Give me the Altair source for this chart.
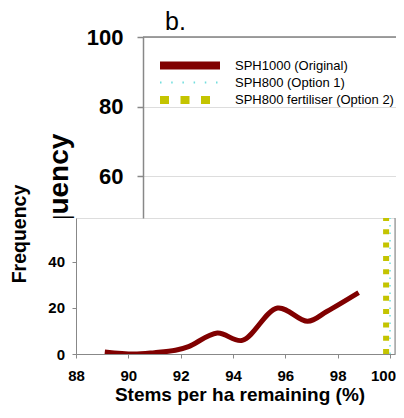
import altair as alt
import pandas as pd

# ---------------- data ----------------
series_names = ["SPH1000 (Original)", "SPH800 (Option 1)", "SPH800 fertiliser (Option 2)"]
series_colors = ["#800000", "#72dede", "#c4c400"]

orig_x = [89.1, 90.2, 91.0, 91.8, 92.3, 93.4, 94.35, 95.7, 96.85, 97.6, 98.8]
orig_y = [0.9, 0.0, 0.6, 1.6, 3.2, 9.1, 5.9, 20.0, 14.2, 18.6, 26.7]
opt1_x = [100.0, 100.0]
opt1_y = [0, 100]
opt2_x = [99.85, 99.85]
opt2_y = [0, 100]

x_ticks = [88, 90, 92, 94, 96, 98, 100]
lower_y_ticks = [0, 20, 40]
upper_y_ticks = [60, 80, 100]

lower_x_domain = [88, 100.19]
upper_x_domain = [88, 100.5]
lower_y_domain = [0, 59.13]
upper_y_domain = [48, 100]

panel_label = ["b."]
panel_label_x = [88.56]
panel_label_y = [102.0]

df_orig = pd.DataFrame({"x": orig_x, "y": orig_y, "series": series_names[0]})
df_opt1 = pd.DataFrame({"x": opt1_x, "y": opt1_y, "series": series_names[1]})
df_opt2 = pd.DataFrame({"x": opt2_x, "y": opt2_y, "series": series_names[2]})
series_frames = [df_orig, df_opt1, df_opt2]

FONT = "Liberation Sans"
GRAY = "#808080"
W, H = 319, 136

# ---------------- lower (small) chart ----------------
x_lower = alt.X(
    "x:Q",
    scale=alt.Scale(domain=lower_x_domain, nice=False, zero=False),
    axis=alt.Axis(
        orient="bottom", values=x_ticks, format="d", title="Stems per ha remaining (%)",
        labelFontSize=15, labelFontWeight="bold", labelBaseline="alphabetic",
        labelOffset={"condition": {"test": "datum.value == 100", "value": -7}, "value": 0},
        tickSize=4, labelPadding=22.5, labelFlush=False, labelOverlap=False,
        titleFontSize=19, titleFontWeight="bold", titleBaseline="alphabetic",
        titleX=163.5, titleY=46.5, zindex=0,
    ),
)
y_lower = alt.Y(
    "y:Q",
    scale=alt.Scale(domain=lower_y_domain, nice=False, zero=False),
    axis=alt.Axis(
        orient="left", values=lower_y_ticks, format="d", title="Frequency",
        labelFontSize=15, labelFontWeight="bold",
        tickSize=4, labelPadding=7.5, labelFlush=False, labelOverlap=False,
        titleFontSize=19.5, titleFontWeight="bold", titleBaseline="alphabetic",
        titleX=-51, titleY=15.5, zindex=1,
    ),
)

mask = alt.Chart(pd.DataFrame({"k": [0]})).mark_rect(fill="white", clip=False).encode(
    x=alt.value(-38), x2=alt.value(-1), y=alt.value(0), y2=alt.value(82)
)
frame_df = pd.DataFrame({"x": [lower_x_domain[1]], "y": [0], "y2": [lower_y_domain[1]]})
right_frame = alt.Chart(frame_df).mark_rule(color=GRAY, strokeWidth=1).encode(
    x=x_lower, y=y_lower, y2="y2:Q"
)
line_orig = alt.Chart(df_orig).mark_line(
    color=series_colors[0], strokeWidth=5, interpolate="catmull-rom", clip=True
).encode(x=x_lower, y=y_lower)
line_opt1 = alt.Chart(df_opt1).mark_line(
    color=series_colors[1], strokeWidth=1.5, strokeDash=[1.5, 6], clip=True
).encode(x=x_lower, y=y_lower)
line_opt2 = alt.Chart(df_opt2).mark_line(
    color=series_colors[2], strokeWidth=6, strokeDash=[5, 8.3], clip=True
).encode(x=x_lower, y=y_lower)

lower = alt.layer(mask, right_frame, line_orig, line_opt1, line_opt2)

# ---------------- upper (enlarged) chart ----------------
x_upper = alt.X(
    "x:Q",
    scale=alt.Scale(domain=upper_x_domain, range=[67, 557.6], nice=False, zero=False),
    axis=None,
)
y_upper = alt.Y(
    "y:Q",
    scale=alt.Scale(domain=upper_y_domain, range=[0, -181], nice=False, zero=False),
    axis=alt.Axis(
        orient="left", offset=-67, values=upper_y_ticks, format="d", title="Frequency",
        labelFontSize=22, labelFontWeight="bold", tickSize=6, labelPadding=14,
        labelFlush=False, labelOverlap=False, domainWidth=1.5, tickWidth=1.5,
        titleFontSize=28, titleFontWeight="bold", titleBaseline="alphabetic",
        titleX=-75.5, titleY=-14, zindex=0,
    ),
)
top_df = pd.DataFrame({"x": [upper_x_domain[0]], "x2": [upper_x_domain[1]], "y": [upper_y_domain[1]]})
top_frame = alt.Chart(top_df).mark_rule(color=GRAY, strokeWidth=1.5).encode(
    x=x_upper, x2="x2:Q", y=y_upper
)

label_df = pd.DataFrame({"x": panel_label_x, "y": panel_label_y, "label": panel_label})
panel_text = alt.Chart(label_df).mark_text(
    font=FONT, fontSize=25, align="left", baseline="alphabetic", color="black"
).encode(x=x_upper, y=y_upper, text="label:N")

# legend: one entry per series (upper, enlarged view)
legend_dashes = [[1, 0], [1.5, 9.7], [9, 11.5]]
legend_widths = [8, 2, 8]
legend_rows_y = [-159.0, -142.0, -124.5]
legend_layers = []
for i, name in enumerate(series_names):
    leg = alt.Legend(
        orient="none", legendX=107.5, legendY=legend_rows_y[i], title=None,
        symbolType="M-30,0H30", symbolSize=4, symbolOffset=0,
        labelFont=FONT, labelFontSize=13, labelColor="black", labelOffset=38.5,
        labelLimit=400, padding=0,
    )
    legend_layers.append(
        alt.Chart(series_frames[i]).transform_filter("datum.y >= 48").mark_line().encode(
            x=x_upper, y=y_upper,
            color=alt.Color("series:N", scale=alt.Scale(domain=[name], range=[series_colors[i]]), legend=leg),
            strokeDash=alt.StrokeDash(
                "series:N", scale=alt.Scale(domain=[name], range=[legend_dashes[i]]), legend=leg
            ),
            strokeWidth=alt.StrokeWidth(
                "series:N",
                scale=alt.Scale(type="ordinal", domain=[name], range=[legend_widths[i]]),
                legend=leg,
            ),
        )
    )

upper = alt.layer(top_frame, panel_text, *legend_layers).resolve_scale(
    color="independent", strokeDash="independent", strokeWidth="independent"
)

chart = (
    alt.layer(upper, lower)
    .resolve_scale(x="independent", y="independent")
    .properties(
        width=W, height=H,
        autosize=alt.AutoSizeParams(type="none"),
        padding={"left": 68, "top": 210, "right": 1, "bottom": 51},
    )
    .configure_view(stroke=None)
    .configure_axis(
        grid=False, labelFont=FONT, titleFont=FONT, labelColor="black", titleColor="black",
        domainColor=GRAY, tickColor=GRAY,
    )
    .configure(background="white")
)

chart.save("out.html", embed_options={"renderer": "svg", "actions": False})
